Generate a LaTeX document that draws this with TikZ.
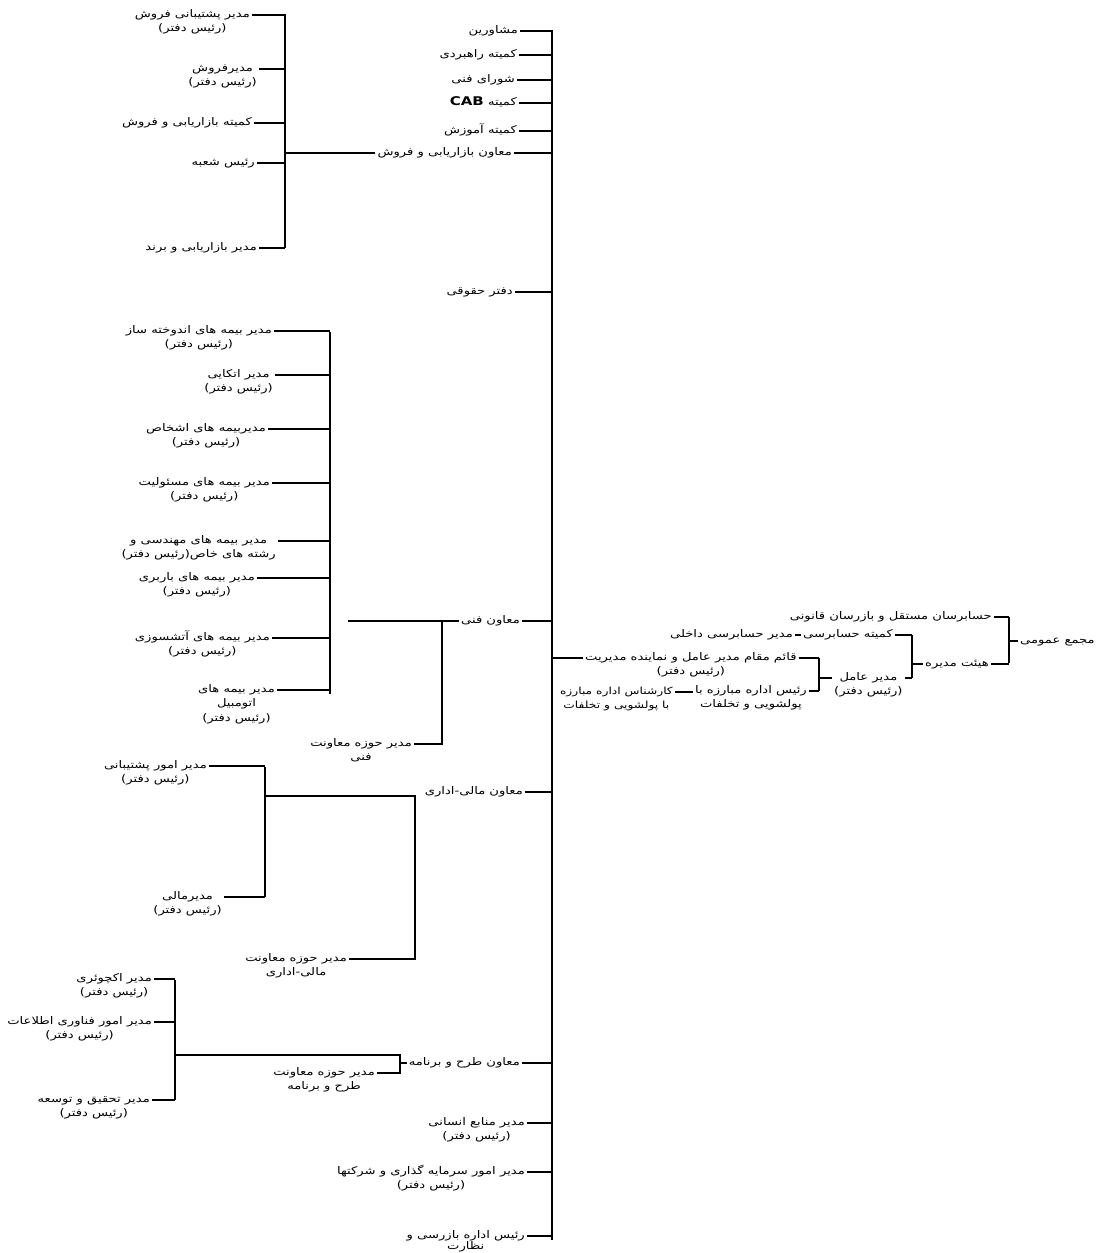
\documentclass[tikz,border=0pt]{standalone}
\usepackage{fontspec}
\newfontfamily\fa[Script=Arabic,FakeStretch=1.25]{DejaVu Sans}
\TeXXeTstate=1
\newcommand\rl[1]{\beginR#1\endR}
\newcommand\dft{\rl{(رئیس دفتر)}}
\newcommand\stack[1]{\begin{tabular}[t]{@{}c@{}}#1\end{tabular}}
\tikzset{
	post/.style={font=\fa\fontsize{10.5}{14.5}\selectfont, inner xsep=2pt, inner ysep=1pt},
	small/.style={font=\fa\fontsize{9.8}{14.5}\selectfont},
	wire/.style={line width=1.5pt},
	spine/.style={line width=2pt},
}
\begin{document}
\begin{tikzpicture}[x=1pt,y=-1pt]
	\useasboundingbox (0,0) rectangle (1105,1253);
	% spine
	\coordinate (top) at (552,30);
	\coordinate (bot) at (552,1240);
	\draw [spine] (top) -- (bot);
	% posts on the spine
	\node [post, anchor=mid east] (mshv) at (520,31) {\rl{مشاورین}};
	\node [post, anchor=mid east] (rahb) at (519,55) {\rl{کمیته راهبردی}};
	\node [post, anchor=mid east] (shfn) at (517,80) {\rl{شورای فنی}};
	\node [post, anchor=mid east] (cab) at (519,103) {\rl{کمیته \beginL{\bfseries\fontsize{12}{14}\selectfont CAB}\endL}};
	\node [post, anchor=mid east] (amuz) at (519,131) {\rl{کمیته آموزش}};
	\node [post, anchor=mid east] (mbf) at (514,153) {\rl{معاون بازاریابی و فروش}};
	\node [post, anchor=mid east] (hoq) at (515,292) {\rl{دفتر حقوقی}};
	\node [post, anchor=mid east] (mfn) at (522,621) {\rl{معاون فنی}};
	\node [post, anchor=mid east] (mma) at (525,792) {\rl{معاون مالی-اداری}};
	\node [post, anchor=mid east] (mtb) at (522,1063) {\rl{معاون طرح و برنامه}};
	\node [post, anchor=mid east] (mna) at (527,1123) {\stack{\rl{مدیر منابع انسانی}\\\dft}};
	\node [post, anchor=mid east] (msg) at (527,1172) {\stack{\rl{مدیر امور سرمایه گذاری و شرکتها}\\\dft}};
	\node [post, anchor=mid east] (rbn) at (527,1236) {\stack{\rl{رئیس اداره بازرسی و}\\[-3.5pt]\rl{نظارت}}};
	\draw [wire] (mshv.mid east) -- (mshv.mid east -| top);
	\draw [wire] (rahb.mid east) -- (rahb.mid east -| top);
	\draw [wire] (shfn.mid east) -- (shfn.mid east -| top);
	\draw [wire] (cab.mid east) -- (cab.mid east -| top);
	\draw [wire] (amuz.mid east) -- (amuz.mid east -| top);
	\draw [wire] (mbf.mid east) -- (mbf.mid east -| top);
	\draw [wire] (hoq.mid east) -- (hoq.mid east -| top);
	\draw [wire] (mfn.mid east) -- (mfn.mid east -| top);
	\draw [wire] (mma.mid east) -- (mma.mid east -| top);
	\draw [wire] (mtb.mid east) -- (mtb.mid east -| top);
	\draw [wire] (mna.mid east) -- (mna.mid east -| top);
	\draw [wire] (msg.mid east) -- (msg.mid east -| top);
	\draw [wire] (rbn.mid east) -- (rbn.mid east -| top);
	% marketing and sales
	\coordinate (bAt) at (285,14);
	\coordinate (bAb) at (285,248);
	\node [post, anchor=mid east] (psf) at (252,15) {\stack{\rl{مدیر پشتیبانی فروش}\\\dft}};
	\node [post, anchor=mid east] (mfr) at (259,69) {\stack{\rl{مدیرفروش}\\\dft}};
	\node [post, anchor=mid east] (kbf) at (254,123) {\rl{کمیته بازاریابی و فروش}};
	\node [post, anchor=mid east] (rsh) at (257,163) {\rl{رئیس شعبه}};
	\node [post, anchor=mid east] (mbb) at (259,248) {\rl{مدیر بازاریابی و برند}};
	\draw [wire] (bAt) -- (bAb);
	\draw [wire] (psf.mid east) -- (psf.mid east -| bAt);
	\draw [wire] (mfr.mid east) -- (mfr.mid east -| bAt);
	\draw [wire] (kbf.mid east) -- (kbf.mid east -| bAt);
	\draw [wire] (rsh.mid east) -- (rsh.mid east -| bAt);
	\draw [wire] (mbb.mid east) -- (mbb.mid east -| bAt);
	\draw [wire] (mbf.mid west) -- (mbf.mid west -| bAt);
	% technical
	\coordinate (bBt) at (330,332);
	\coordinate (bBb) at (330,694);
	\coordinate (bBx) at (348,621);
	\coordinate (bFt) at (442,621);
	\coordinate (bFb) at (442,745);
	\node [post, anchor=mid east] (and) at (274,331) {\stack{\rl{مدیر بیمه های اندوخته ساز}\\\dft}};
	\node [post, anchor=mid east] (atk) at (275,375) {\stack{\rl{مدیر اتکایی}\\\dft}};
	\node [post, anchor=mid east] (ash) at (268,429) {\stack{\rl{مدیربیمه های اشخاص}\\\dft}};
	\node [post, anchor=mid east] (msl) at (272,483) {\stack{\rl{مدیر بیمه های مسئولیت}\\\dft}};
	\node [post, anchor=mid east] (mhn) at (278,541) {\stack{\rl{مدیر بیمه های مهندسی و}\\\rl{رشته های خاص(رئیس دفتر)}}};
	\node [post, anchor=mid east] (bar) at (257,578) {\stack{\rl{مدیر بیمه های باربری}\\\dft}};
	\node [post, anchor=mid east] (ats) at (272,638) {\stack{\rl{مدیر بیمه های آتشسوزی}\\\dft}};
	\node [post, anchor=mid east] (otm) at (277,690) {\stack{\rl{مدیر بیمه های}\\\rl{اتومبیل}\\\dft}};
	\node [post, anchor=mid east] (hfn) at (414,744) {\stack{\rl{مدیر حوزه معاونت}\\\rl{فنی}}};
	\draw [wire] (bBt) -- (bBb);
	\draw [wire] (and.mid east) -- (and.mid east -| bBt);
	\draw [wire] (atk.mid east) -- (atk.mid east -| bBt);
	\draw [wire] (ash.mid east) -- (ash.mid east -| bBt);
	\draw [wire] (msl.mid east) -- (msl.mid east -| bBt);
	\draw [wire] (mhn.mid east) -- (mhn.mid east -| bBt);
	\draw [wire] (bar.mid east) -- (bar.mid east -| bBt);
	\draw [wire] (ats.mid east) -- (ats.mid east -| bBt);
	\draw [wire] (otm.mid east) -- (otm.mid east -| bBt);
	\draw [wire] (bBx) -- (bFt) -- (bFb);
	\draw [wire] (mfn.mid west) -- (mfn.mid west -| bFt);
	\draw [wire] (hfn.mid east) -- (hfn.mid east -| bFt);
	% finance and administration
	\coordinate (bCt) at (265,767);
	\coordinate (bCb) at (265,897);
	\coordinate (bCm) at (265,796);
	\coordinate (bMt) at (415,796);
	\coordinate (bMb) at (415,960);
	\node [post, anchor=mid east] (mop) at (209,766) {\stack{\rl{مدیر امور پشتیبانی}\\\dft}};
	\node [post, anchor=mid east] (mml) at (224,897) {\stack{\rl{مدیرمالی}\\\dft}};
	\node [post, anchor=mid east] (hmd) at (349,959) {\stack{\rl{مدیر حوزه معاونت}\\\rl{مالی-اداری}}};
	\draw [wire] (bCt) -- (bCb);
	\draw [wire] (mop.mid east) -- (mop.mid east -| bCt);
	\draw [wire] (mml.mid east) -- (mml.mid east -| bCt);
	\draw [wire] (bCm) -- (bMt) -- (bMb);
	\draw [wire] (hmd.mid east) -- (hmd.mid east -| bMt);
	% planning
	\coordinate (bDt) at (175,980);
	\coordinate (bDb) at (175,1100);
	\coordinate (bDm) at (175,1055);
	\coordinate (bTt) at (400,1055);
	\coordinate (bTb) at (400,1074);
	\node [post, anchor=mid east] (akc) at (154,979) {\stack{\rl{مدیر اکچوئری}\\\dft}};
	\node [post, anchor=mid east] (fav) at (154,1022) {\stack{\rl{مدیر امور فناوری اطلاعات}\\\dft}};
	\node [post, anchor=mid east] (tht) at (152,1100) {\stack{\rl{مدیر تحقیق و توسعه}\\\dft}};
	\node [post, anchor=mid east] (htb) at (377,1073) {\stack{\rl{مدیر حوزه معاونت}\\\rl{طرح و برنامه}}};
	\draw [wire] (bDt) -- (bDb);
	\draw [wire] (akc.mid east) -- (akc.mid east -| bDt);
	\draw [wire] (fav.mid east) -- (fav.mid east -| bDt);
	\draw [wire] (tht.mid east) -- (tht.mid east -| bDt);
	\draw [wire] (bDm) -- (bTt) -- (bTb);
	\draw [wire] (htb.mid east) -- (htb.mid east -| bTt);
	\draw [wire] (mtb.mid west) -- (mtb.mid west -| bTt);
	% board side
	\coordinate (bEt) at (819,658);
	\coordinate (bEb) at (819,691);
	\coordinate (bGt) at (912,635);
	\coordinate (bGb) at (912,678);
	\coordinate (bHt) at (1009,617);
	\coordinate (bHb) at (1009,663);
	\node [post, anchor=mid west] (qm) at (583,658) {\stack{\rl{قائم مقام مدیر عامل و نماینده مدیریت}\\\dft}};
	\node [post, anchor=mid east] (mbz) at (809,691) {\stack{\rl{رئیس اداره مبارزه با}\\\rl{پولشویی و تخلفات}}};
	\node [post, small, anchor=mid east] (krs) at (675,692) {\stack{\rl{کارشناس اداره مبارزه}\\\rl{با پولشویی و تخلفات}}};
	\node [post, anchor=mid west] (mdam) at (832,678) {\stack{\rl{مدیر عامل}\\\dft}};
	\node [post, anchor=mid east] (kh) at (895,635) {\rl{کمیته حسابرسی}};
	\node [post, anchor=mid east] (mha) at (795,635) {\rl{مدیر حسابرسی داخلی}};
	\node [post, anchor=mid west] (hm) at (923,664) {\rl{هیئت مدیره}};
	\node [post, anchor=mid east] (hsb) at (994,617) {\rl{حسابرسان مستقل و بازرسان قانونی}};
	\node [post, anchor=mid west] (mjm) at (1018,641) {\rl{مجمع عمومی}};
	\draw [wire] (qm.mid west) -- (qm.mid west -| top);
	\draw [wire] (bEt) -- (bEb);
	\draw [wire] (qm.mid east) -- (qm.mid east -| bEt);
	\draw [wire] (mbz.mid east) -- (mbz.mid east -| bEt);
	\draw [wire] (krs.mid east) -- (krs.mid east -| mbz.mid west);
	\draw [wire] (mdam.mid west) -- (mdam.mid west -| bEt);
	\draw [wire] (bGt) -- (bGb);
	\draw [wire] (mdam.mid east) -- (mdam.mid east -| bGt);
	\draw [wire] (kh.mid east) -- (kh.mid east -| bGt);
	\draw [wire] (mha.mid east) -- (mha.mid east -| kh.mid west);
	\draw [wire] (hm.mid west) -- (hm.mid west -| bGt);
	\draw [wire] (bHt) -- (bHb);
	\draw [wire] (hm.mid east) -- (hm.mid east -| bHt);
	\draw [wire] (hsb.mid east) -- (hsb.mid east -| bHt);
	\draw [wire] (mjm.mid west) -- (mjm.mid west -| bHt);
\end{tikzpicture}
\end{document}
